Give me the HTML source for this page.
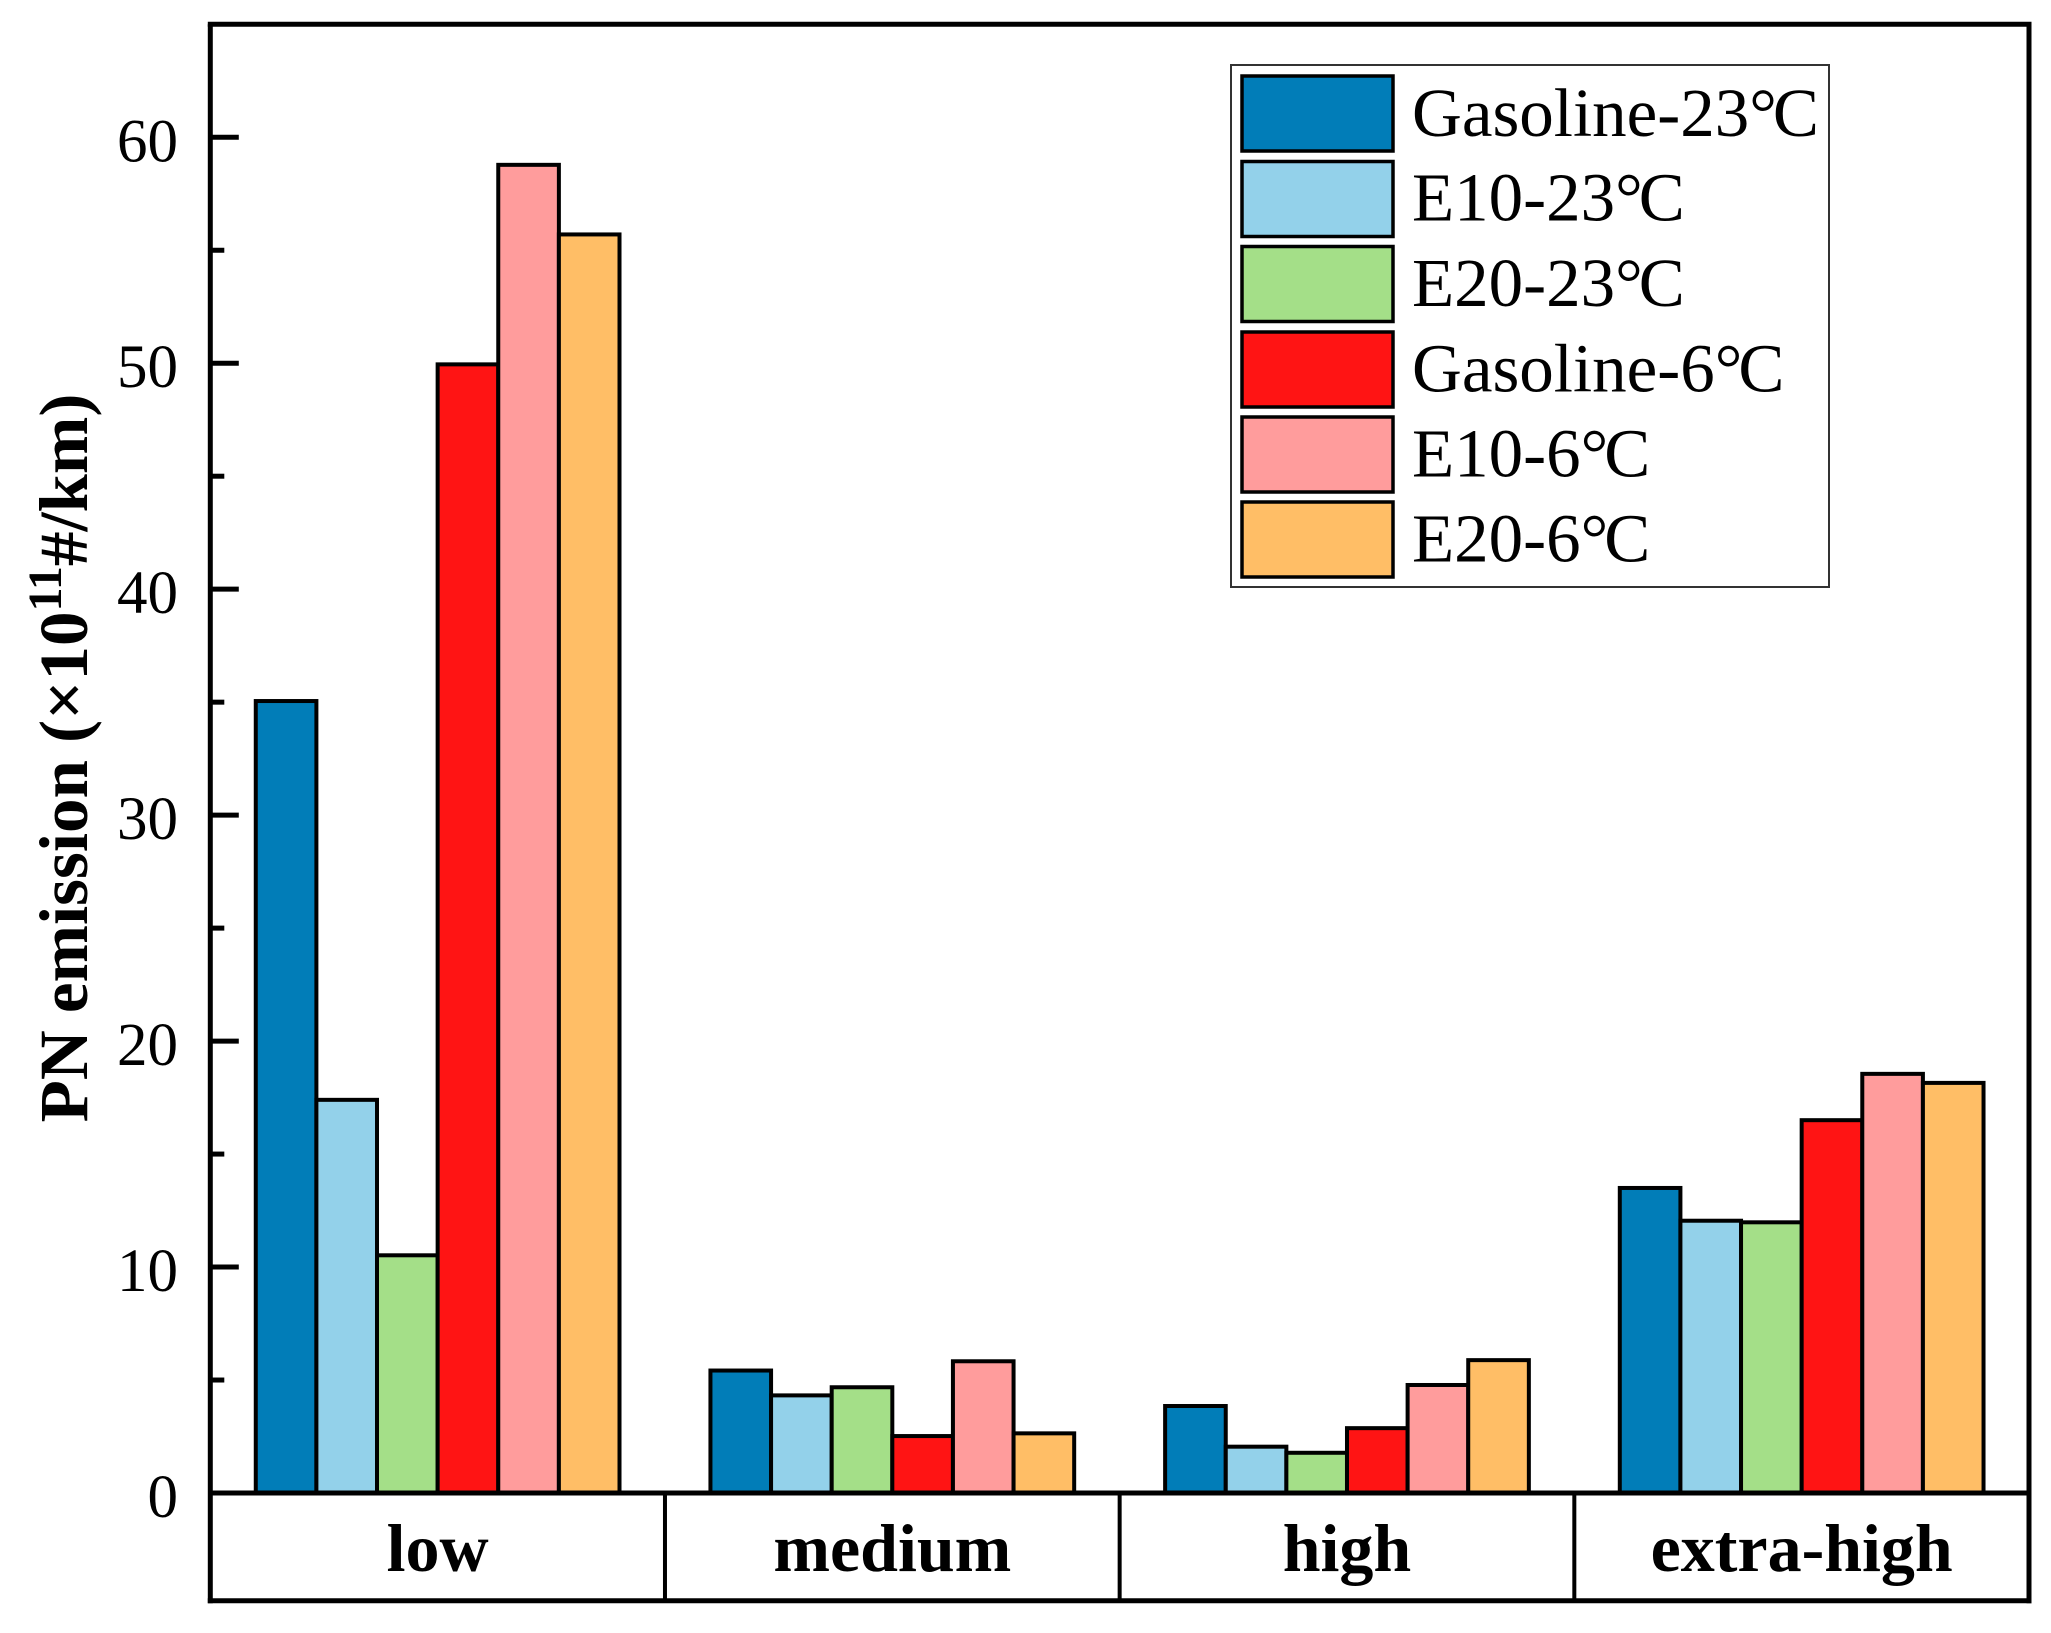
<!DOCTYPE html>
<html lang="en">
<head>
<meta charset="utf-8">
<title>PN emission by driving phase</title>
<style>
html,body{margin:0;padding:0;background:#fff;}
svg{display:block;}
text{font-family:"Liberation Serif","Noto Serif CJK SC",serif;fill:#000;}
</style>
</head>
<body>
<svg id="chart" xmlns="http://www.w3.org/2000/svg" width="2051" height="1633" viewBox="0 0 2051 1633">
  <rect x="0" y="0" width="2051" height="1633" fill="#ffffff"/>
  <g id="bars"></g>
  <g id="axes"></g>
  <text transform="translate(87,758) rotate(-90)" text-anchor="middle" font-size="69" font-weight="700">PN emission (×10<tspan font-size="48" dy="-26">11</tspan><tspan dy="26">#/km)</tspan></text>
  <g id="legend">
    <rect x="1231" y="65" width="598" height="522" fill="#ffffff" stroke="#333333" stroke-width="2"/>
    <g>
      <rect x="1242" y="76" width="151" height="75" fill="#017DB8" stroke="#000" stroke-width="3.5"/>
      <text x="1412" y="136" font-size="69">Gasoline-23°<tspan dx="-4">C</tspan></text>
    </g>
    <g>
      <rect x="1242" y="161.500" width="151" height="75" fill="#93D1EA" stroke="#000" stroke-width="3.5"/>
      <text x="1412" y="220.500" font-size="69">E10-23°<tspan dx="-4">C</tspan></text>
    </g>
    <g>
      <rect x="1242" y="246.500" width="151" height="75" fill="#A4DF88" stroke="#000" stroke-width="3.5"/>
      <text x="1412" y="306" font-size="69">E20-23°<tspan dx="-4">C</tspan></text>
    </g>
    <g>
      <rect x="1242" y="332" width="151" height="75" fill="#FF1414" stroke="#000" stroke-width="3.5"/>
      <text x="1412" y="391.500" font-size="69">Gasoline-6°<tspan dx="-4">C</tspan></text>
    </g>
    <g>
      <rect x="1242" y="417" width="151" height="75" fill="#FF9C9C" stroke="#000" stroke-width="3.5"/>
      <text x="1412" y="476.500" font-size="69">E10-6°<tspan dx="-4">C</tspan></text>
    </g>
    <g>
      <rect x="1242" y="502" width="151" height="75" fill="#FFBE66" stroke="#000" stroke-width="3.5"/>
      <text x="1412" y="561.500" font-size="69">E20-6°<tspan dx="-4">C</tspan></text>
    </g>
  </g>
</svg>
<script>
const categories = ['low', 'medium', 'high', 'extra-high'];
const seriesNames = ['gasoline-23', 'e10-23', 'e20-23', 'gasoline-6', 'e10-6', 'e20-6'];
const seriesColors = ['#017DB8', '#93D1EA', '#A4DF88', '#FF1414', '#FF9C9C', '#FFBE66'];
const gasoline23 = [35.05, 5.42, 3.85, 13.5];
const e1023 = [17.4, 4.32, 2.05, 12.05];
const e2023 = [10.52, 4.68, 1.78, 11.98];
const gasoline6 = [49.95, 2.52, 2.87, 16.5];
const e106 = [58.78, 5.83, 4.78, 18.55];
const e206 = [55.7, 2.64, 5.88, 18.15];
const majorTicks = [0, 10, 20, 30, 40, 50, 60];
const minorTicks = [5, 15, 25, 35, 45, 55];

const allSeries = [gasoline23, e1023, e2023, gasoline6, e106, e206];
const SVG_NS = 'http://www.w3.org/2000/svg';
const plotLeft = 210.3, plotRight = 2029, plotTop = 24.3, plotBase = 1493, plotBottom = 1600.8;
const yMax = 65;
function yScale(v) { return plotBase - (v / yMax) * (plotBase - plotTop); }
const catWidth = (plotRight - plotLeft) / categories.length;
function catLeft(i) { return plotLeft + i * catWidth; }
const barWidth = catWidth * 0.8 / seriesNames.length;
function barX(c, s) { return catLeft(c) + catWidth * 0.1 + s * barWidth; }

function make(tag, attrs, parent) {
  const el = document.createElementNS(SVG_NS, tag);
  for (const k in attrs) el.setAttribute(k, attrs[k]);
  parent.appendChild(el);
  return el;
}

const barsG = document.getElementById('bars');
allSeries.forEach(function (values, s) {
  values.forEach(function (v, c) {
    const top = yScale(v);
    const el = make('rect', {
      x: barX(c, s), y: top, width: barWidth, height: plotBase - top,
      fill: seriesColors[s], stroke: '#000', 'stroke-width': 4
    }, barsG);
    
    
  });
});

const axesG = document.getElementById('axes');
function axisLine(x1, y1, x2, y2, w, name) {
  const el = make('line', { x1: x1, y1: y1, x2: x2, y2: y2, stroke: '#000', 'stroke-width': w }, axesG);
  
  
}
axisLine(plotLeft - 2.5, plotTop, plotRight + 2.5, plotTop, 5, 'top-axis-line');
axisLine(plotLeft, plotTop, plotLeft, plotBottom + 2.5, 5, 'y-axis-line');
axisLine(plotRight, plotTop, plotRight, plotBottom + 2.5, 5, 'right-axis-line');
axisLine(plotLeft, plotBase, plotRight, plotBase, 5, 'x-axis-line');
axisLine(plotLeft - 2.5, plotBottom, plotRight + 2.5, plotBottom, 5, 'category-box-bottom-line');

majorTicks.forEach(function (t) {
  axisLine(plotLeft, yScale(t), plotLeft + 28.5, yScale(t), 5, 'y-major-tick-' + t);
  const label = make('text', { x: 178, y: yScale(t) + 24, 'text-anchor': 'end', 'font-size': 61 }, axesG);
  label.textContent = String(t);
  
  
});
minorTicks.forEach(function (t) {
  axisLine(plotLeft, yScale(t), plotLeft + 14, yScale(t), 5, 'y-minor-tick-' + t);
});

categories.forEach(function (name, i) {
  if (i > 0) axisLine(catLeft(i), plotBase, catLeft(i), plotBottom, 4, 'category-divider-' + i);
  const label = make('text', {
    x: catLeft(i) + catWidth / 2, y: 1571, 'text-anchor': 'middle',
    'font-size': 68, 'font-weight': 700
  }, axesG);
  label.textContent = name;
  
  
});
</script>
</body>
</html>
